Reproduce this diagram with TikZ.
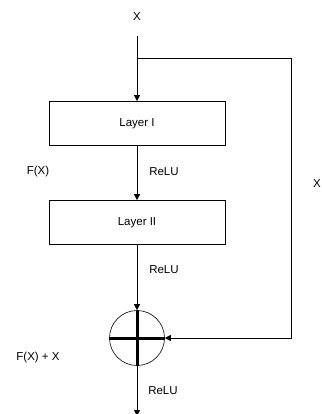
\documentclass[tikz,border=0pt]{standalone}
\usepackage{fontspec}
\setmainfont{Liberation Sans}
\usetikzlibrary{arrows.meta}
\begin{document}
\begin{tikzpicture}[x=1pt, y=-1pt, line width=0.8pt, font=\fontsize{11.5}{13}\selectfont,
    layer/.style={draw, minimum width=176pt, minimum height=44pt, inner sep=0pt},
    arr/.style={-{Triangle[length=6pt, width=6pt]}}]
  \useasboundingbox (0,0) rectangle (321,414);
  \node (in) at (137,17) {X};
  \coordinate (top) at (137,36);
  \coordinate (split) at (137,58);
  \node[layer] (l1) at (137,123.5) {Layer I};
  \node[layer] (l2) at (137,222.5) {Layer II};
  \node[draw, circle, line width=0.6pt, minimum size=55pt, inner sep=0pt] (sum) at (137,338) {};
  \draw[line width=3pt] (sum.north) -- (sum.south) (sum.west) -- (sum.east);
  \coordinate (corner) at (291,338);
  \coordinate (out) at (137,416);
  \draw[arr] (top) -- (l1);
  \draw[arr] (l1) -- (l2);
  \draw[arr] (l2) -- (sum.north);
  \draw[arr] (split) -| (corner) -- (sum.east);
  \draw[arr] (sum.south) -- (out);
  % labels
  \node (fx) at (38,172) {F(X)};
  \node (r1) at (164,172) {ReLU};
  \node (xs) at (317,184) {X};
  \node (r2) at (164,270) {ReLU};
  \node (fxx) at (38,358) {F(X) + X};
  \node (r3) at (163,391) {ReLU};
\end{tikzpicture}
\end{document}
